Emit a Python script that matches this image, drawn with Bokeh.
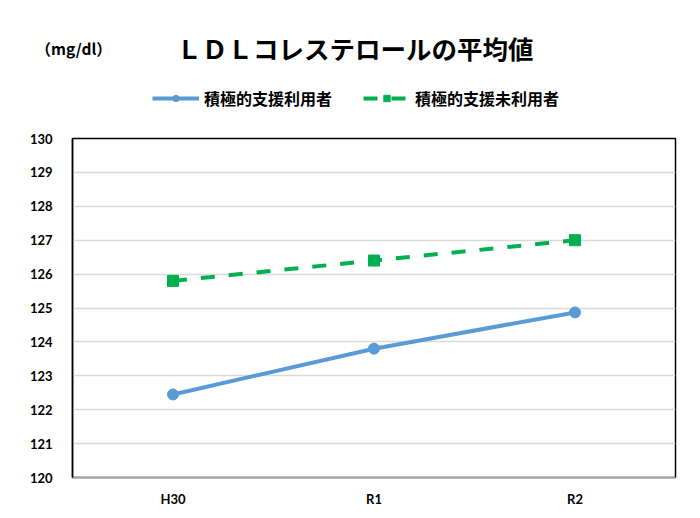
from bokeh.plotting import figure
from bokeh.layouts import column
from bokeh.models import (ColumnDataSource, Legend, LegendItem, FixedTicker)
from bokeh.core.properties import value
from bokeh.embed import file_html
from bokeh.resources import INLINE

categories = ["H30", "R1", "R2"]
used = [122.45, 123.8, 124.87]
not_used = [125.8, 126.4, 127.0]
y_ticks = [120, 121, 122, 123, 124, 125, 126, 127, 128, 129, 130]
title_text = "ＬＤＬコレステロールの平均値"
unit_text = "（mg/dl）"
series_names = ["積極的支援利用者", "積極的支援未利用者"]

JP = "Noto Sans CJK JP"
NUM = "Lato"
BLUE = "#5B9BD5"
GREEN = "#00B050"

W = 700
HEAD_H = 128

# ---------- header: title, unit and legend ----------
head = figure(width=W, height=HEAD_H, x_range=(0, W), y_range=(0, HEAD_H),
              output_backend="svg", toolbar_location=None,
              x_axis_location=None, y_axis_location=None,
              min_border=0, min_border_left=0, min_border_right=0,
              min_border_top=0, min_border_bottom=0)
head.grid.grid_line_color = None
head.outline_line_color = None
head.background_fill_color = "white"
head.border_fill_color = "white"

head.text(x=[176], y=[81.5], text=[title_text], text_font=value(JP),
          text_font_style="bold", text_font_size="25.5px", text_color="black",
          text_align="left", text_baseline="middle")
head.text(x=[35], y=[81], text=[unit_text], text_font=value(JP),
          text_font_style="bold", text_font_size="15.5px", text_color="black",
          text_align="left", text_baseline="middle")

# legend sample renderers (kept outside the visible range)
dummy = ColumnDataSource(dict(x=[-1000], y=[-1000]))
h1 = head.line("x", "y", source=dummy, line_color=BLUE, line_width=4)
hm1 = head.scatter("x", "y", source=dummy, marker="circle", size=11,
                   fill_color=BLUE, line_color=BLUE)
h2 = head.line("x", "y", source=dummy, line_color=GREEN, line_width=4,
               line_dash="14 14")
hm2 = head.scatter("x", "y", source=dummy, marker="square", size=11,
                   fill_color=GREEN, line_color=GREEN)

legend = Legend(items=[LegendItem(label=series_names[0], renderers=[h1, hm1]),
                       LegendItem(label=series_names[1], renderers=[h2, hm2])],
                orientation="horizontal", location=(152, 18),
                label_text_font=JP, label_text_font_style="bold",
                label_text_font_size="16px", label_text_color="black",
                label_height=20, glyph_width=47, glyph_height=16,
                spacing=31, label_standoff=5, border_line_color=None,
                background_fill_alpha=0, padding=0, margin=0)
head.add_layout(legend, "center")

# ---------- main chart ----------
src = ColumnDataSource(dict(x=categories, used=used, not_used=not_used))

p = figure(x_range=categories, y_range=(120, 130), width=W, height=518 - HEAD_H,
           output_backend="svg", toolbar_location=None,
           min_border_left=72, min_border_right=25, min_border_top=10,
           min_border_bottom=41)
p.background_fill_color = "white"
p.border_fill_color = "white"
p.outline_line_color = "black"
p.outline_line_width = 1.5

p.xgrid.grid_line_color = None
p.ygrid.grid_line_color = "#d9d9d9"
p.ygrid.grid_line_width = 1.5

p.yaxis.ticker = FixedTicker(ticks=y_ticks)
for ax in (p.xaxis, p.yaxis):
    ax.major_label_text_font = NUM
    ax.major_label_text_font_style = "bold"
    ax.major_label_text_font_size = "13px"
    ax.major_label_text_color = "black"
    ax.major_tick_line_color = None
    ax.minor_tick_line_color = None
p.yaxis.axis_line_color = "black"
p.yaxis.axis_line_width = 1.5
p.xaxis.axis_line_color = "#a6a6a6"
p.xaxis.axis_line_width = 1.5
p.yaxis.major_label_standoff = 14
p.xaxis.major_label_standoff = 7

p.line("x", "used", source=src, line_color=BLUE, line_width=4)
p.scatter("x", "used", source=src, marker="circle", size=11,
          fill_color=BLUE, line_color=BLUE)
p.line("x", "not_used", source=src, line_color=GREEN, line_width=4,
       line_dash="14 14")
p.scatter("x", "not_used", source=src, marker="square", size=11,
          fill_color=GREEN, line_color=GREEN)

if "frame_align" in type(head).properties():
    head.frame_align = False
    p.frame_align = False
    root = column(head, p, spacing=0)
else:
    root = [head, p]

open("out.html", "w").write(file_html(root, INLINE))
